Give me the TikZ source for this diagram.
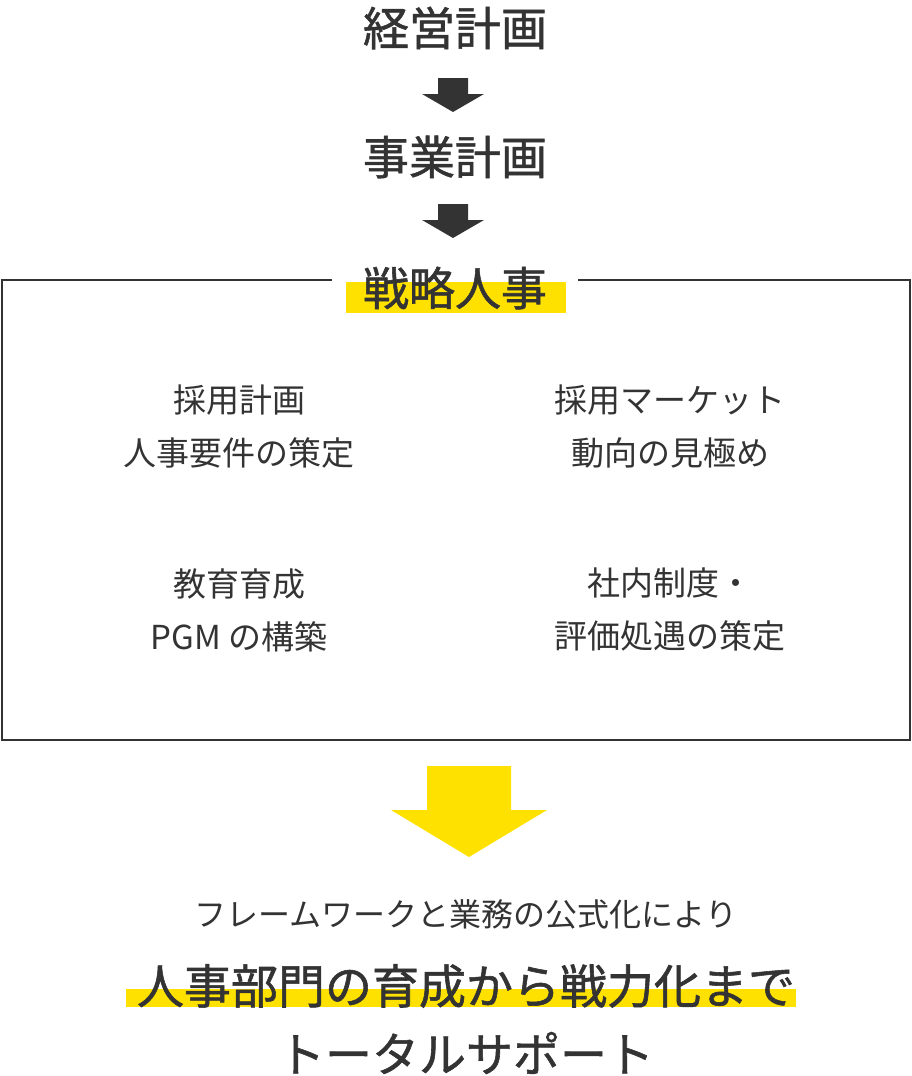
\documentclass[tikz,border=0pt]{standalone}
\usepackage{fontspec}
\setmainfont{Noto Sans CJK JP}
\newfontfamily\med[BoldFont={Noto Sans CJK JP},BoldFeatures={FakeBold=1.2}]{Noto Sans CJK JP}
\definecolor{dk}{HTML}{333333}
\definecolor{yl}{HTML}{FFE100}
\begin{document}
\begin{tikzpicture}[x=1pt,y=-1pt,
  txt/.style={text=dk,inner sep=0pt,align=center},
  big/.style={txt,font=\med\bfseries\fontsize{46}{52}\selectfont},
  mid/.style={txt,font=\med\fontsize{33}{53}\selectfont},
  darr/.style={fill=dk}]
\useasboundingbox (0,0) rectangle (912,1076);
\node[big] (a) at (455,28) {経営計画};
\node[big] (b) at (455,157) {事業計画};
\fill[darr] (438,78) -- (468,78) -- (468,94) -- (484,94) -- (453,112) -- (422,94) -- (438,94) -- cycle;
\fill[darr] (438,204) -- (468,204) -- (468,220) -- (484,220) -- (453,238) -- (422,220) -- (438,220) -- cycle;
\draw[dk,line width=1.5] (332,280) -- (2,280) -- (2,740) -- (910,740) -- (910,280) -- (578,280);
\fill[yl] (346,282) rectangle (566,313);
\node[big] (c) at (455,288) {戦略人事};
\node[mid] (p1) at (239,427) {採用計画\\人事要件の策定};
\node[mid] (p2) at (670,427) {採用マーケット\\動向の見極め};
\node[mid] (p3) at (239,610) {教育育成\\PGM の構築};
\node[mid] (p4) at (670,610) {社内制度・\\評価処遇の策定};
\fill[yl] (427,766) -- (511,766) -- (511,810) -- (547,810) -- (469,857) -- (391,810) -- (427,810) -- cycle;
\node[txt,font=\med\fontsize{32}{36}\selectfont] (d) at (466,914) {フレームワークと業務の公式化により};
\fill[yl] (126,989) rectangle (796,1007);
\node[big,font=\med\bfseries\fontsize{47}{52}\selectfont] (e) at (466,986) {人事部門の育成から戦力化まで};
\node[big,font=\med\bfseries\fontsize{47}{52}\selectfont] (f) at (466,1053) {トータルサポート};
\end{tikzpicture}
\end{document}
